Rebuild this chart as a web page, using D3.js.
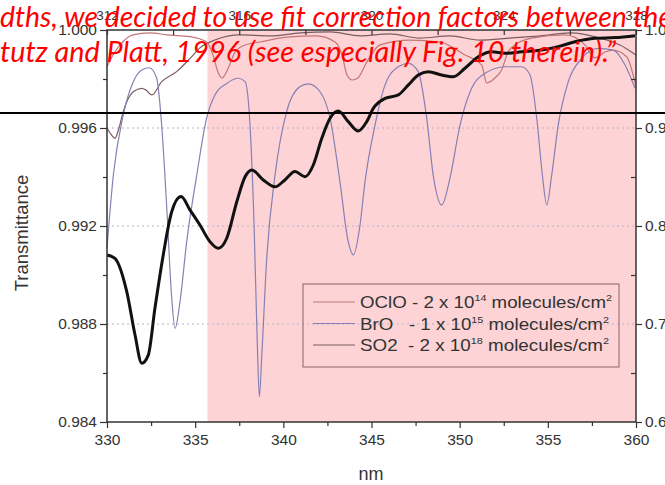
<!DOCTYPE html>
<html>
<head>
<meta charset="utf-8">
<script src="https://cdn.jsdelivr.net/npm/d3@7"></script>
<style>
  body { margin: 0; background: #fff; }
  svg { display: block; font-family: "Liberation Sans", Arial, sans-serif; }
  .axis text { fill: #333; font-size: 15.5px; }
  .axis line { stroke: #333; stroke-width: 1.2; }
  .axis path { display: none; }
</style>
</head>
<body>
<svg width="665" height="485"></svg>
<script>
// total transmittance (thick black line)
var total = [
  [330.0, 0.99082], [330.45, 0.99068], [331.12, 0.98932], [331.59, 0.98755], [331.97, 0.98640],
  [332.34, 0.98673], [332.72, 0.98865], [333.19, 0.99082], [333.67, 0.99258], [334.20, 0.99320],
  [334.71, 0.99265], [335.27, 0.99204], [335.84, 0.99136], [336.31, 0.99109], [336.79, 0.99150],
  [337.36, 0.99299], [337.83, 0.99401], [338.21, 0.99429], [338.86, 0.99388], [339.53, 0.99360],
  [340.09, 0.99388], [340.66, 0.99422], [341.23, 0.99401], [341.70, 0.99449], [342.18, 0.99558],
  [342.65, 0.99640], [343.12, 0.99669], [343.68, 0.99626], [344.25, 0.99588], [344.73, 0.99626],
  [345.10, 0.99680], [345.77, 0.99721], [346.52, 0.99735], [347.09, 0.99776], [347.65, 0.99816],
  [348.22, 0.99830], [348.98, 0.99816], [349.64, 0.99809], [350.30, 0.99844], [351.06, 0.99891],
  [351.82, 0.99911], [352.57, 0.99905], [353.52, 0.99911], [354.65, 0.99918], [355.59, 0.99932],
  [356.54, 0.99952], [357.67, 0.99966], [358.81, 0.99969], [359.94, 0.99977]
];

var oclo = [
  [330.0, 0.99850], [330.34, 0.99898], [330.74, 0.99939], [331.47, 0.99980], [332.44, 0.99988],
  [333.39, 0.99980], [334.71, 0.99973], [335.65, 0.99951], [336.01, 0.99898], [336.29, 0.99829],
  [336.52, 0.99804], [336.88, 0.99845], [337.26, 0.99910], [337.83, 0.99939], [338.68, 0.99951],
  [340.19, 0.99971], [341.89, 0.99976], [342.93, 0.99951], [343.33, 0.99898], [343.61, 0.99816],
  [343.90, 0.99796], [344.23, 0.99804], [344.73, 0.99869], [345.48, 0.99939], [347.18, 0.99959],
  [348.88, 0.99951], [350.30, 0.99898], [351.25, 0.99857], [351.53, 0.99784], [352.00, 0.99804],
  [352.38, 0.99837], [352.74, 0.99910], [353.14, 0.99939], [354.08, 0.99967], [355.97, 0.99980],
  [357.11, 0.99939], [357.67, 0.99886], [358.24, 0.99910], [358.69, 0.99918], [359.47, 0.99891],
  [360.0, 0.99769]
];

var bro = [
  [330.0, 0.99109], [330.36, 0.99408], [330.92, 0.99653], [331.49, 0.99789], [331.97, 0.99837],
  [332.40, 0.99846], [332.82, 0.99803], [333.10, 0.99612], [333.39, 0.99273], [333.67, 0.98906],
  [333.86, 0.98782], [334.14, 0.98891], [334.52, 0.99136], [335.09, 0.99408], [335.65, 0.99640],
  [336.12, 0.99735], [336.79, 0.99782], [337.45, 0.99803], [337.83, 0.99789], [338.11, 0.99612],
  [338.34, 0.99204], [338.52, 0.98728], [338.64, 0.98503], [338.77, 0.98661], [339.06, 0.99069],
  [339.53, 0.99408], [340.19, 0.99667], [340.95, 0.99769], [341.42, 0.99780], [342.08, 0.99748],
  [342.65, 0.99640], [343.21, 0.99381], [343.68, 0.99136], [343.97, 0.99082], [344.35, 0.99204],
  [344.63, 0.99380], [345.20, 0.99612], [345.77, 0.99776], [346.52, 0.99850], [347.09, 0.99864],
  [347.65, 0.99830], [348.13, 0.99640], [348.50, 0.99408], [348.98, 0.99286], [349.45, 0.99395],
  [350.02, 0.99612], [350.68, 0.99762], [351.44, 0.99823], [352.57, 0.99850], [353.52, 0.99850],
  [353.99, 0.99816], [354.37, 0.99640], [354.69, 0.99408], [354.94, 0.99286], [355.22, 0.99408],
  [355.59, 0.99612], [356.16, 0.99789], [356.92, 0.99884], [357.86, 0.99925], [358.71, 0.99918],
  [359.38, 0.99857], [359.94, 0.99762]
];

var so2 = [
  [330.0, 0.99599], [330.17, 0.99580], [330.45, 0.99558], [330.68, 0.99600], [330.92, 0.99667],
  [331.49, 0.99748], [331.97, 0.99762], [332.21, 0.99755], [332.54, 0.99735], [333.10, 0.99789],
  [333.95, 0.99830], [334.71, 0.99884], [335.27, 0.99927], [336.12, 0.99959], [337.54, 0.99980],
  [339.24, 0.99976], [340.95, 0.99988], [342.65, 0.99992], [344.35, 0.99976], [346.05, 0.99984],
  [347.75, 0.99967], [349.45, 0.99976], [351.15, 0.99959], [352.85, 0.99967], [354.56, 0.99976],
  [356.26, 0.99988], [357.96, 0.99967], [359.09, 0.99939], [360.0, 0.99898]
];

var fitWindow = [335.7, 360];
var leftTicks = [0.984, 0.988, 0.992, 0.996, 1.000];
var rightTicks = [0.6, 0.7, 0.8, 0.9, 1.0];
var topTicks = [312, 316, 320, 324, 328];
var bottomTicks = [330, 335, 340, 345, 350, 355, 360];

var legendNames = ["OClO", "BrO  ", "SO2 "];
var legendCoef = ["2", "1", "2"];
var legendExp = ["14", "15", "18"];
var legendColors = ["#c27676", "#8680b4", "#7a5c62"];

var quote1 = "dths, we decided to use fit correction factors between the";
var quote2 = "tutz and Platt, 1996 (see especially Fig. 10 therein).\u201d";

var svg = d3.select("svg"),
    width = +svg.attr("width"),
    height = +svg.attr("height");

var plotL = 107, plotR = 636, plotT = 30, plotB = 422;

var x = d3.scaleLinear().domain([330, 360]).range([plotL, plotR]);
var xTop = d3.scaleLinear().domain([312, 328]).range([plotL, plotR]);
var y = d3.scaleLinear().domain([0.984, 1.0]).range([plotB, plotT]);
var yRight = d3.scaleLinear().domain([0.6, 1.0]).range([plotB, plotT]);

// fit window shading
svg.append("rect")
    .attr("x", x(fitWindow[0]))
    .attr("y", plotT)
    .attr("width", x(fitWindow[1]) - x(fitWindow[0]))
    .attr("height", plotB - plotT)
    .attr("fill", "#fdd3d5");

// dotted grid
svg.append("g").selectAll("line")
    .data([0.988, 0.992, 0.996])
  .enter().append("line")
    .attr("x1", plotL).attr("x2", plotR)
    .attr("y1", function(d) { return y(d); })
    .attr("y2", function(d) { return y(d); })
    .attr("stroke", "#b4b4c8")
    .attr("stroke-width", 1)
    .attr("stroke-dasharray", "2,3");

var line = d3.line()
    .x(function(d) { return x(d[0]); })
    .y(function(d) { return y(d[1]); })
    .curve(d3.curveMonotoneX);

// thin reference spectra
[[so2, legendColors[2]], [oclo, legendColors[0]], [bro, legendColors[1]]].forEach(function(s) {
  svg.append("path")
      .datum(s[0])
      .attr("d", line)
      .attr("fill", "none")
      .attr("stroke", s[1])
      .attr("stroke-width", 1.2);
});

svg.append("path")
    .datum(total)
    .attr("d", line)
    .attr("fill", "none")
    .attr("stroke", "#111")
    .attr("stroke-width", 3)
    .attr("stroke-linejoin", "round");

// legend
var legend = svg.append("g");
legend.append("rect")
    .attr("x", 303).attr("y", 284)
    .attr("width", 316).attr("height", 83)
    .attr("fill", "none")
    .attr("stroke", "#8a6464")
    .attr("stroke-width", 1);

var legendLen = [252, 249, 249];
legendNames.forEach(function(name, i) {
  var ly = 302 + i * 21.5;
  legend.append("line")
      .attr("x1", 313).attr("x2", 355)
      .attr("y1", ly).attr("y2", ly)
      .attr("stroke", legendColors[i])
      .attr("stroke-width", 1.2);
  var t = legend.append("text")
      .attr("x", 360).attr("y", ly + 6)
      .style("white-space", "pre")
      .attr("font-size", 16.5)
      .attr("fill", "#333")
      .attr("textLength", legendLen[i])
      .attr("lengthAdjust", "spacingAndGlyphs");
  t.append("tspan").text(name + " - " + legendCoef[i] + " x 10");
  t.append("tspan").attr("font-size", 9.5).attr("dy", -7).text(legendExp[i]);
  t.append("tspan").attr("dy", 7).text(" molecules/cm");
  t.append("tspan").attr("font-size", 9.5).attr("dy", -7).text("2");
});

// axes
svg.append("rect")
    .attr("x", plotL).attr("y", plotT)
    .attr("width", plotR - plotL).attr("height", plotB - plotT)
    .attr("fill", "none")
    .attr("stroke", "#333")
    .attr("stroke-width", 1.5);

svg.append("g").attr("class", "axis")
    .attr("transform", "translate(" + plotL + ",0)")
    .call(d3.axisLeft(y).tickValues(leftTicks).tickSize(7).tickPadding(3).tickFormat(d3.format(".3f")));
svg.append("g").attr("class", "axis")
    .attr("transform", "translate(" + plotL + ",0)")
    .call(d3.axisLeft(y).tickValues([0.986, 0.990, 0.994, 0.998]).tickSize(4).tickFormat(""));

svg.append("g").attr("class", "axis")
    .attr("transform", "translate(0," + plotB + ")")
    .call(d3.axisBottom(x).tickValues(bottomTicks).tickSize(6).tickPadding(6));
svg.append("g").attr("class", "axis")
    .attr("transform", "translate(0," + plotB + ")")
    .call(d3.axisBottom(x).tickValues([332.5, 337.5, 342.5, 347.5, 352.5, 357.5]).tickSize(4).tickFormat(""));

svg.append("g").attr("class", "axis")
    .attr("transform", "translate(" + plotR + ",0)")
    .call(d3.axisRight(yRight).tickValues(rightTicks).tickSize(6).tickPadding(3).tickFormat(d3.format(".2f")));
svg.append("g").attr("class", "axis")
    .attr("transform", "translate(" + plotR + ",0)")
    .call(d3.axisRight(yRight).tickValues([0.65, 0.75, 0.85, 0.95]).tickSize(-5).tickFormat(""));

var topAxis = svg.append("g").attr("class", "axis")
    .attr("transform", "translate(0," + plotT + ")")
    .call(d3.axisTop(xTop).tickValues(topTicks).tickSize(-5).tickPadding(10).tickFormat(d3.format("d")));
topAxis.selectAll("text").style("font-size", "13.5px");
svg.append("g").attr("class", "axis")
    .attr("transform", "translate(0," + plotT + ")")
    .call(d3.axisTop(xTop).tickValues([314, 318, 322, 326]).tickSize(-5).tickFormat(""));

svg.append("text")
    .attr("transform", "translate(28,233) rotate(-90)")
    .attr("text-anchor", "middle")
    .attr("font-size", 18.5)
    .attr("fill", "#333")
    .text("Transmittance");

svg.append("text")
    .attr("x", 371).attr("y", 480)
    .attr("text-anchor", "middle")
    .attr("font-size", 18)
    .attr("fill", "#333")
    .text("nm");

// slide overlay: rule and quoted text
svg.append("line")
    .attr("x1", 0).attr("x2", width)
    .attr("y1", 113).attr("y2", 113)
    .attr("stroke", "#000")
    .attr("stroke-width", 2.2);

svg.append("text")
    .attr("x", 0).attr("y", 27)
    .attr("font-family", "Lato, 'Open Sans', sans-serif")
    .attr("font-style", "italic")
    .attr("font-size", 29)
    .attr("fill", "#ff0000")
    .attr("textLength", 672)
    .attr("lengthAdjust", "spacingAndGlyphs")
    .text(quote1);

svg.append("text")
    .attr("x", 0).attr("y", 62)
    .attr("font-family", "Lato, 'Open Sans', sans-serif")
    .attr("font-style", "italic")
    .attr("font-size", 29)
    .attr("fill", "#ff0000")
    .attr("textLength", 616)
    .attr("lengthAdjust", "spacingAndGlyphs")
    .text(quote2);
</script>
</body>
</html>
